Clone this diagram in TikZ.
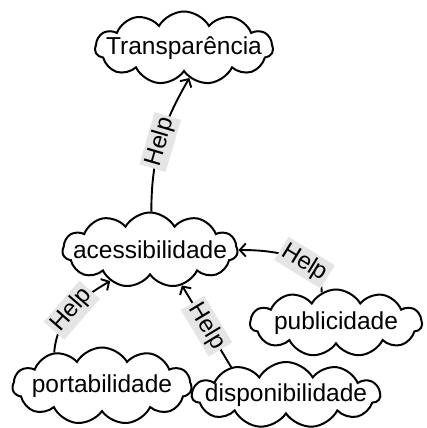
\documentclass[tikz,border=0pt]{standalone}
\usepackage{fontspec}
\setmainfont{Liberation Sans}
\usetikzlibrary{shapes.symbols,arrows.meta}
\begin{document}
\begin{tikzpicture}[x=1pt,y=1pt,
  cloudbox/.style={cloud, cloud puffs=11, cloud puff arc=120, cloud ignores aspect, draw, line width=2pt, inner sep=0pt},
  cloudtext/.style={font=\fontsize{24.5}{28}\selectfont, inner sep=0pt},
  conn/.style={line width=1.9pt, -{Straight Barb[length=6pt,width=13pt]}},
  helplbl/.style={fill=gray!20, font=\fontsize{24}{28}\selectfont, inner sep=2.5pt, sloped}
]
\useasboundingbox (0,0) rectangle (426,428);
\node[cloudbox, minimum width=178pt, minimum height=73pt, label={[cloudtext]center:Transparência}] (trans) at (184,380) {};
\node[cloudbox, minimum width=175pt, minimum height=75pt, label={[cloudtext]center:acessibilidade}] (acc) at (150,178) {};
\node[cloudbox, minimum width=172pt, minimum height=67pt, label={[cloudtext]center:publicidade}] (pub) at (336,105) {};
\node[cloudbox, minimum width=179pt, minimum height=77pt, label={[cloudtext]center:portabilidade}] (port) at (102,42) {};
\node[cloudbox, minimum width=188pt, minimum height=66pt, label={[cloudtext]center:disponibilidade}] (disp) at (286,33) {};
\draw[conn] (acc.88) to[out=90,in=240] node[helplbl]{Help} (trans.-80);
\draw[conn] (pub.115) to[out=90,in=0] node[helplbl,pos=0.38]{Help} (acc.east);
\draw[conn] (port.145) to[out=85,in=210] node[helplbl]{Help} (acc.218);
\draw[conn] (disp.153) -- node[helplbl]{Help} (acc.312);
\end{tikzpicture}
\end{document}
